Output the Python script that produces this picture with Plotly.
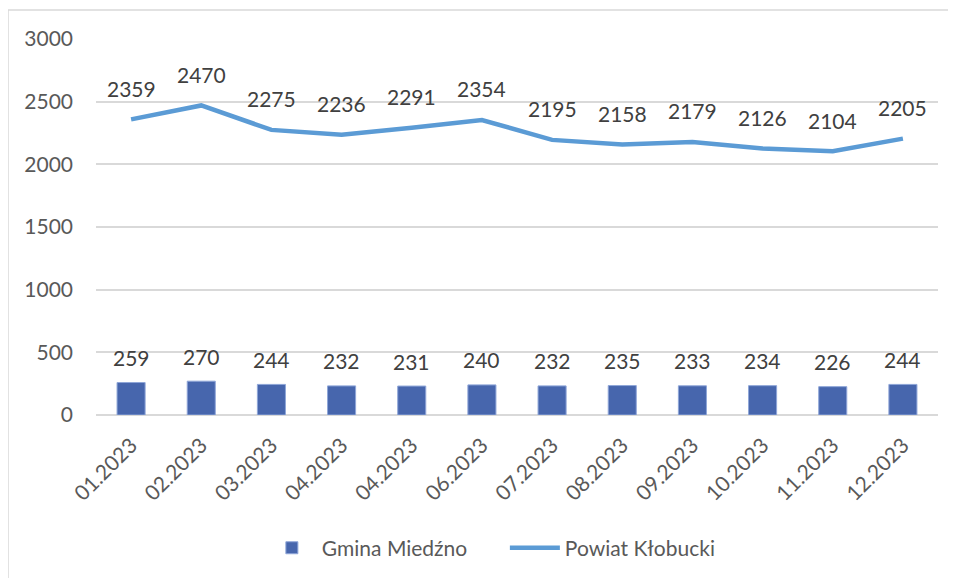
import plotly.graph_objects as go

categories = ["01.2023", "02.2023", "03.2023", "04.2023", "04.2023", "06.2023",
              "07.2023", "08.2023", "09.2023", "10.2023", "11.2023", "12.2023"]
gmina_miedzno = [259, 270, 244, 232, 231, 240, 232, 235, 233, 234, 226, 244]
powiat_klobucki = [2359, 2470, 2275, 2236, 2291, 2354, 2195, 2158, 2179, 2126, 2104, 2205]
y_ticks = [0, 500, 1000, 1500, 2000, 2500, 3000]

x_pos = list(range(len(categories)))
FONT = "Lato, 'Open Sans', sans-serif"
TXT = "#595959"

fig = go.Figure()
fig.add_trace(go.Bar(
    x=x_pos, y=gmina_miedzno, name="Gmina Miedźno",
    marker=dict(color="#4766AD", line=dict(color="#8FA6D8", width=1)),
    width=0.4, hoverinfo="skip",
))
fig.add_trace(go.Scatter(
    x=x_pos, y=powiat_klobucki, name="Powiat Kłobucki", mode="lines",
    line=dict(color="#5B9BD5", width=4.5), hoverinfo="skip",
))

annotations = []
for xi, v in zip(x_pos, gmina_miedzno):
    annotations.append(dict(x=xi, y=v, text=str(v), showarrow=False, yshift=25,
                            font=dict(family=FONT, size=21, color="#404040")))
for xi, v in zip(x_pos, powiat_klobucki):
    annotations.append(dict(x=xi, y=v, text=str(v), showarrow=False, yshift=31,
                            font=dict(family=FONT, size=21, color="#404040")))

fig.update_layout(
    width=948, height=570,
    margin=dict(l=88, r=18, t=31, b=163, autoexpand=False),
    paper_bgcolor="white", plot_bgcolor="white",
    font=dict(family=FONT, size=20, color=TXT),
    showlegend=True,
    legend=dict(orientation="h", x=0.197, xanchor="left", y=-0.354, yanchor="middle",
                font=dict(family=FONT, size=21, color=TXT), itemwidth=50,
                entrywidth=178, entrywidthmode="pixels"),
    annotations=annotations,
    xaxis=dict(
        range=[-0.5, len(categories) - 0.5], automargin=False,
        tickmode="array", tickvals=x_pos, ticktext=categories,
        tickangle=-45, showgrid=False, showline=False, zeroline=False,
        ticks="", ticklabelstandoff=13,
        tickfont=dict(family=FONT, size=21, color=TXT),
    ),
    yaxis=dict(
        range=[0, 3000], tickmode="array", tickvals=y_ticks, automargin=False,
        showgrid=True, gridcolor="#D9D9D9", gridwidth=1.5,
        zeroline=True, zerolinecolor="#D9D9D9", zerolinewidth=1.5,
        showline=False, ticks="", ticklabelstandoff=22,
        tickfont=dict(family=FONT, size=21, color=TXT),
    ),
    shapes=[
        dict(type="line", xref="paper", yref="paper", x0=-0.1045, x1=1.03,
             y0=1.0771, y1=1.0771, line=dict(color="#D9D9D9", width=1.5)),
        dict(type="line", xref="paper", yref="paper", x0=-0.1045, x1=-0.1045,
             y0=1.0771, y1=-0.44, line=dict(color="#D9D9D9", width=1.5)),
    ],
)

fig.write_html("out.html")
